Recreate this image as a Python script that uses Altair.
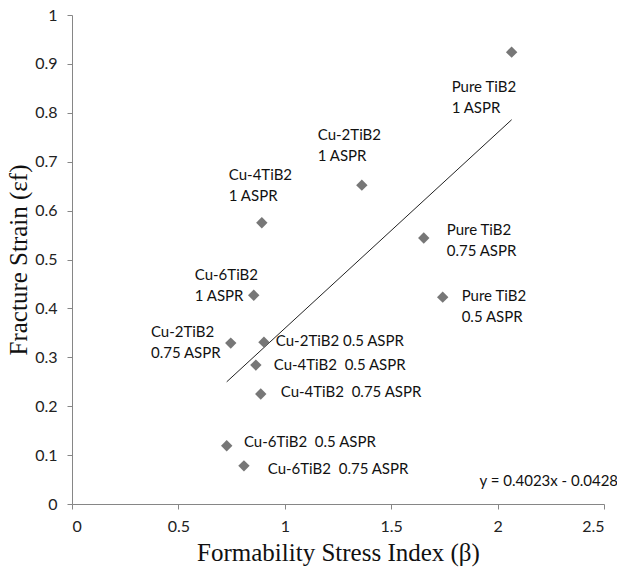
import altair as alt
import pandas as pd

# Data
beta = [2.066, 1.362, 0.892, 1.653, 1.742, 0.854, 0.746, 0.902, 0.864, 0.887, 0.727, 0.808]
strain = [0.924, 0.652, 0.575, 0.544, 0.423, 0.427, 0.329, 0.331, 0.284, 0.225, 0.119, 0.078]

labels = [
    "Pure TiB2\n1 ASPR",
    "Cu-2TiB2\n1 ASPR",
    "Cu-4TiB2\n1 ASPR",
    "Pure TiB2\n0.75 ASPR",
    "Pure TiB2\n0.5 ASPR",
    "Cu-6TiB2\n1 ASPR",
    "Cu-2TiB2\n0.75 ASPR",
    "Cu-2TiB2 0.5 ASPR",
    "Cu-4TiB2\u00a0 0.5 ASPR",
    "Cu-4TiB2\u00a0 0.75 ASPR",
    "Cu-6TiB2\u00a0 0.5 ASPR",
    "Cu-6TiB2\u00a0 0.75 ASPR",
    "y = 0.4023x - 0.0428",
]
# label anchor (left edge, vertical centre) in data units
label_x = [1.784, 1.155, 0.737, 1.761, 1.831, 0.577, 0.371, 0.958, 0.948, 0.981, 0.808, 0.920, 1.915]
label_y = [0.852, 0.754, 0.672, 0.560, 0.426, 0.469, 0.351, 0.333, 0.284, 0.229, 0.127, 0.072, 0.047]

x_ticks = [0, 0.5, 1, 1.5, 2, 2.5]
y_ticks = [0, 0.1, 0.2, 0.3, 0.4, 0.5, 0.6, 0.7, 0.8, 0.9, 1]

pts = pd.DataFrame({"x": beta, "y": strain})
lab = pd.DataFrame({"lx": label_x, "ly": label_y, "t": labels})

FONT = "Lato"
AXC = "#868686"

xscale = alt.Scale(domain=[0, 2.5], nice=False, zero=False)
yscale = alt.Scale(domain=[0, 1], nice=False, zero=False)

xaxis = alt.Axis(values=x_ticks, format="~g", title="Formability Stress Index (β)", grid=False,
                 domainColor=AXC, tickColor=AXC, tickSize=5, labelPadding=9,
                 labelFont=FONT, labelFontSize=16, labelColor="#222",
                 titleFont="Liberation Serif", titleFontSize=25, titleFontWeight="normal",
                 titleColor="#111", titlePadding=6)
yaxis = alt.Axis(values=y_ticks, format="~g", title="Fracture Strain (εf)", grid=False,
                 domainColor=AXC, tickColor=AXC, tickSize=5, labelPadding=10,
                 labelFont=FONT, labelFontSize=16, labelColor="#222",
                 titleFont="Liberation Serif", titleFontSize=25, titleFontWeight="normal",
                 titleColor="#111", titlePadding=3)

points = alt.Chart(pts).mark_point(shape="diamond", filled=True, size=130,
                                   color="#777777", opacity=1).encode(
    x=alt.X("x:Q", scale=xscale, axis=xaxis),
    y=alt.Y("y:Q", scale=yscale, axis=yaxis),
)

trend = alt.Chart(pts).transform_regression("x", "y").mark_line(
    color="#222", strokeWidth=1).encode(
    x=alt.X("x:Q", scale=xscale),
    y=alt.Y("y:Q", scale=yscale),
)

text = alt.Chart(lab).mark_text(align="left", baseline="middle", lineBreak="\n",
                                lineHeight=21, font=FONT, fontSize=15,
                                color="#111").encode(
    x=alt.X("lx:Q", scale=xscale),
    y=alt.Y("ly:Q", scale=yscale),
    text="t:N",
)

chart = alt.layer(trend, points, text).properties(
    width=532, height=489,
    autosize="none",
    padding={"left": 72, "top": 15, "right": 13, "bottom": 68},
    background="white",
).configure_view(stroke=None)

chart.save("out.html", embed_options={"renderer": "svg", "actions": False})
